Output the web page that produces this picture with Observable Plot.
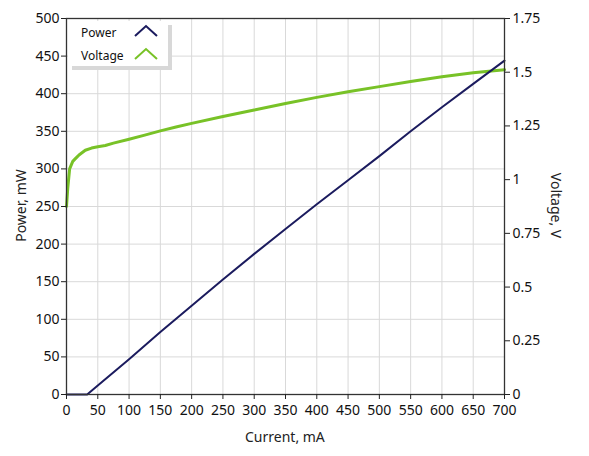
<!DOCTYPE html>
<html><head><meta charset="utf-8">
<script src="https://cdn.jsdelivr.net/npm/d3@7"></script>
<script src="https://cdn.jsdelivr.net/npm/@observablehq/plot@0.6"></script>
<style>
body{margin:0;background:#fff;font-family:"Noto Sans",sans-serif}
#wrap{position:relative;width:589px;height:456px}
#legend{position:absolute;left:68px;top:21px;width:100px;height:45px;background:#fff;box-shadow:4px 4px 0 #d8d8d8;font-size:12px;color:#111}
.lrow{position:absolute;left:13px;}
.lsym{position:absolute;left:66px}
.alabel{position:absolute;font-size:14px;color:#222;white-space:nowrap}
</style></head><body><div id="wrap"></div>
<script>
const powerCurrent = [0, 33, 50, 100, 150, 200, 250, 300, 350, 400, 450, 500, 550, 600, 650, 700];
const powerValues  = [0, 0, 12, 47, 83, 118, 153, 187, 220, 253, 285, 317, 350, 382, 413, 444];
const voltageCurrent = [0, 2, 5, 10, 15, 20, 30, 40, 50, 62, 75, 100, 125, 150, 175, 200, 250, 300, 350, 400, 450, 500, 550, 600, 650, 700];
const voltageValues  = [0.875, 0.96, 1.05, 1.085, 1.10, 1.115, 1.137, 1.147, 1.153, 1.159, 1.17, 1.188, 1.207, 1.227, 1.245, 1.262, 1.294, 1.324, 1.354, 1.383, 1.409, 1.433, 1.457, 1.479, 1.497, 1.512];
const xTicks = [0,50,100,150,200,250,300,350,400,450,500,550,600,650,700];
const powerTicks = [0,50,100,150,200,250,300,350,400,450,500];
const voltageTicks = [0,0.25,0.5,0.75,1,1.25,1.5,1.75];
const seriesNames = ["Power", "Voltage"];
const seriesColors = ["#1b1b5e", "#78c227"];

const pMax = 500, vMax = 1.75, k = pMax / vMax;
const powerData = powerCurrent.map((c, i) => ({c, p: powerValues[i]}));
const voltageData = voltageCurrent.map((c, i) => ({c, v: voltageValues[i]}));

const chart = Plot.plot({
  width: 589, height: 456,
  marginLeft: 66, marginRight: 85, marginTop: 18, marginBottom: 62,
  style: {fontFamily: "'Noto Sans', sans-serif", fontSize: "14px", color: "#111", background: "#fff"},
  x: {domain: [0, 700]},
  y: {domain: [0, pMax]},
  marks: [
    Plot.gridX(xTicks, {stroke: "#d9d9d9", strokeOpacity: 1}),
    Plot.gridY(powerTicks, {stroke: "#d9d9d9", strokeOpacity: 1}),
    Plot.line(voltageData, {x: "c", y: d => d.v * k, stroke: seriesColors[1], strokeWidth: 3}),
    Plot.line(powerData, {x: "c", y: "p", stroke: seriesColors[0], strokeWidth: 2}),
    Plot.frame({stroke: "#333", strokeWidth: 1.3}),
    Plot.axisX(xTicks, {tickSize: 5, tickPadding: 6, fontSize: 14, label: null, stroke: "#222"}),
    Plot.axisY(powerTicks, {anchor: "left", tickSize: 5, tickPadding: 2, fontSize: 14, label: null, stroke: "#222"}),
    Plot.axisY(voltageTicks.map(v => v * k), {anchor: "right", tickSize: 5, tickPadding: 3, fontSize: 14, label: null, stroke: "#222",
      tickFormat: d => String(+(d / k).toFixed(2))})
  ]
});
const wrap = document.getElementById("wrap");
wrap.appendChild(chart);

// Legend
const legend = document.createElement("div");
legend.id = "legend";
seriesNames.forEach((name, i) => {
  const t = document.createElement("div");
  t.className = "lrow";
  t.style.top = (3 + i * 23) + "px";
  t.textContent = name;
  legend.appendChild(t);
  const s = document.createElementNS("http://www.w3.org/2000/svg", "svg");
  s.setAttribute("class", "lsym");
  s.setAttribute("width", 24); s.setAttribute("height", 14);
  s.style.top = (3 + i * 23) + "px";
  const path = document.createElementNS("http://www.w3.org/2000/svg", "path");
  path.setAttribute("d", "M1,12 L12,2 L23,12");
  path.setAttribute("fill", "none");
  path.setAttribute("stroke", seriesColors[i]);
  path.setAttribute("stroke-width", 2);
  s.appendChild(path);
  legend.appendChild(s);
});
wrap.appendChild(legend);

// Axis titles
function addLabel(text, cx, cy, rot) {
  const d = document.createElement("div");
  d.className = "alabel";
  d.textContent = text;
  wrap.appendChild(d);
  const w = d.offsetWidth, h = d.offsetHeight;
  d.style.left = (cx - w / 2) + "px";
  d.style.top = (cy - h / 2) + "px";
  if (rot) d.style.transform = `rotate(${rot}deg)`;
}
addLabel("Power, mW", 20, 205, -90);
addLabel("Voltage, V", 556, 205, 90);
addLabel("Current, mA", 285, 436, 0);
</script>
</body></html>
